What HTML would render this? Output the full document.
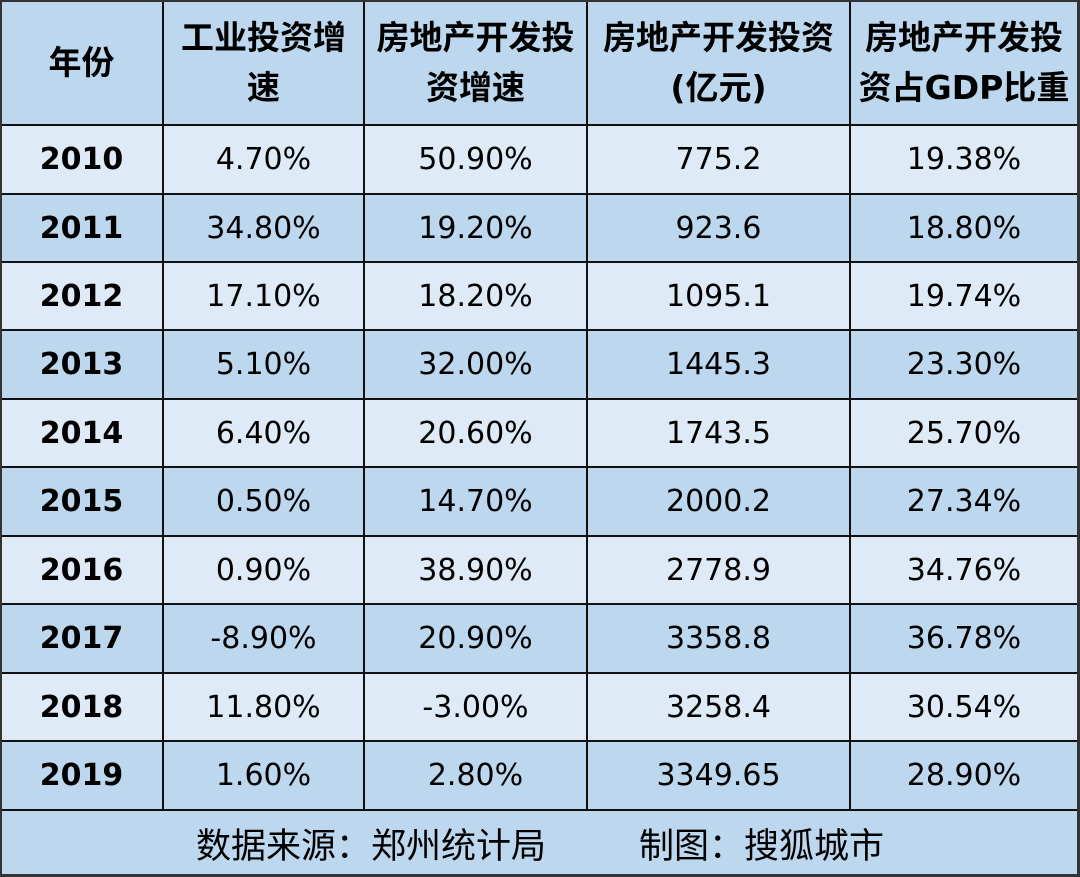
<!DOCTYPE html>
<html><head><meta charset="utf-8"><style>
body{margin:0;width:1080px;height:877px;overflow:hidden;background:#bdd7ee;font-family:"DejaVu Sans","Noto Sans CJK SC",sans-serif;}
.c{position:absolute;display:flex;align-items:center;justify-content:center;text-align:center;color:#000;font-size:30px;box-sizing:border-box;}
.h{font-weight:bold;font-size:33px;line-height:50px;font-family:"DejaVu Sans","Noto Sans CJK SC",sans-serif;white-space:nowrap;}
.y{font-weight:bold;}
.hl{position:absolute;left:0;width:1080px;height:2px;background:#111;}
.vl{position:absolute;top:0;width:2px;height:810px;background:#111;}
</style></head><body>
<div id="t"></div>
<script>
var t=document.getElementById('t');
var ys=[0,125,194,262,330,399,467,536,604,673,741,810];
var xs=[0,163,364,587,850,1078];
var rows=[["年份","工业投资增<br>速","房地产开发投<br>资增速","房地产开发投资<br>(亿元)","房地产开发投<br>资占GDP比重"],
["2010","4.70%","50.90%","775.2","19.38%"],["2011","34.80%","19.20%","923.6","18.80%"],["2012","17.10%","18.20%","1095.1","19.74%"],["2013","5.10%","32.00%","1445.3","23.30%"],["2014","6.40%","20.60%","1743.5","25.70%"],["2015","0.50%","14.70%","2000.2","27.34%"],["2016","0.90%","38.90%","2778.9","34.76%"],["2017","-8.90%","20.90%","3358.8","36.78%"],["2018","11.80%","-3.00%","3258.4","30.54%"],["2019","1.60%","2.80%","3349.65","28.90%"]];
var h='';
for(var r=0;r<11;r++){var bg=(r==0||r%2==0)?'#bdd7ee':'#deebf7';
h+='<div style="position:absolute;left:0;top:'+ys[r]+'px;width:1080px;height:'+(ys[r+1]-ys[r])+'px;background:'+bg+'"></div>';
for(var c=0;c<5;c++){var cls='c'+(r==0?' h':(c==0?' y':''));
h+='<div class="'+cls+'" style="left:'+xs[c]+'px;top:'+ys[r]+'px;width:'+(xs[c+1]-xs[c])+'px;height:'+(ys[r+1]-ys[r])+'px">'+rows[r][c]+'</div>';}}
for(var i=1;i<ys.length;i++)h+='<div class="hl" style="top:'+(ys[i]-1)+'px"></div>';
for(var i=1;i<5;i++)h+='<div class="vl" style="left:'+(xs[i]-1)+'px"></div>';
h+='<div class="c" style="left:0;top:810px;width:1080px;height:66px;font-size:35px;white-space:nowrap"><span>数据来源：郑州统计局</span><span style="display:inline-block;width:93px"></span><span>制图：搜狐城市</span></div>';
h+='<div style="position:absolute;left:0;top:0;width:1080px;height:877px;box-sizing:border-box;border:2px solid #333;border-right-width:3px;border-bottom-width:3px"></div>';
t.innerHTML=h;
</script>
</body></html>
